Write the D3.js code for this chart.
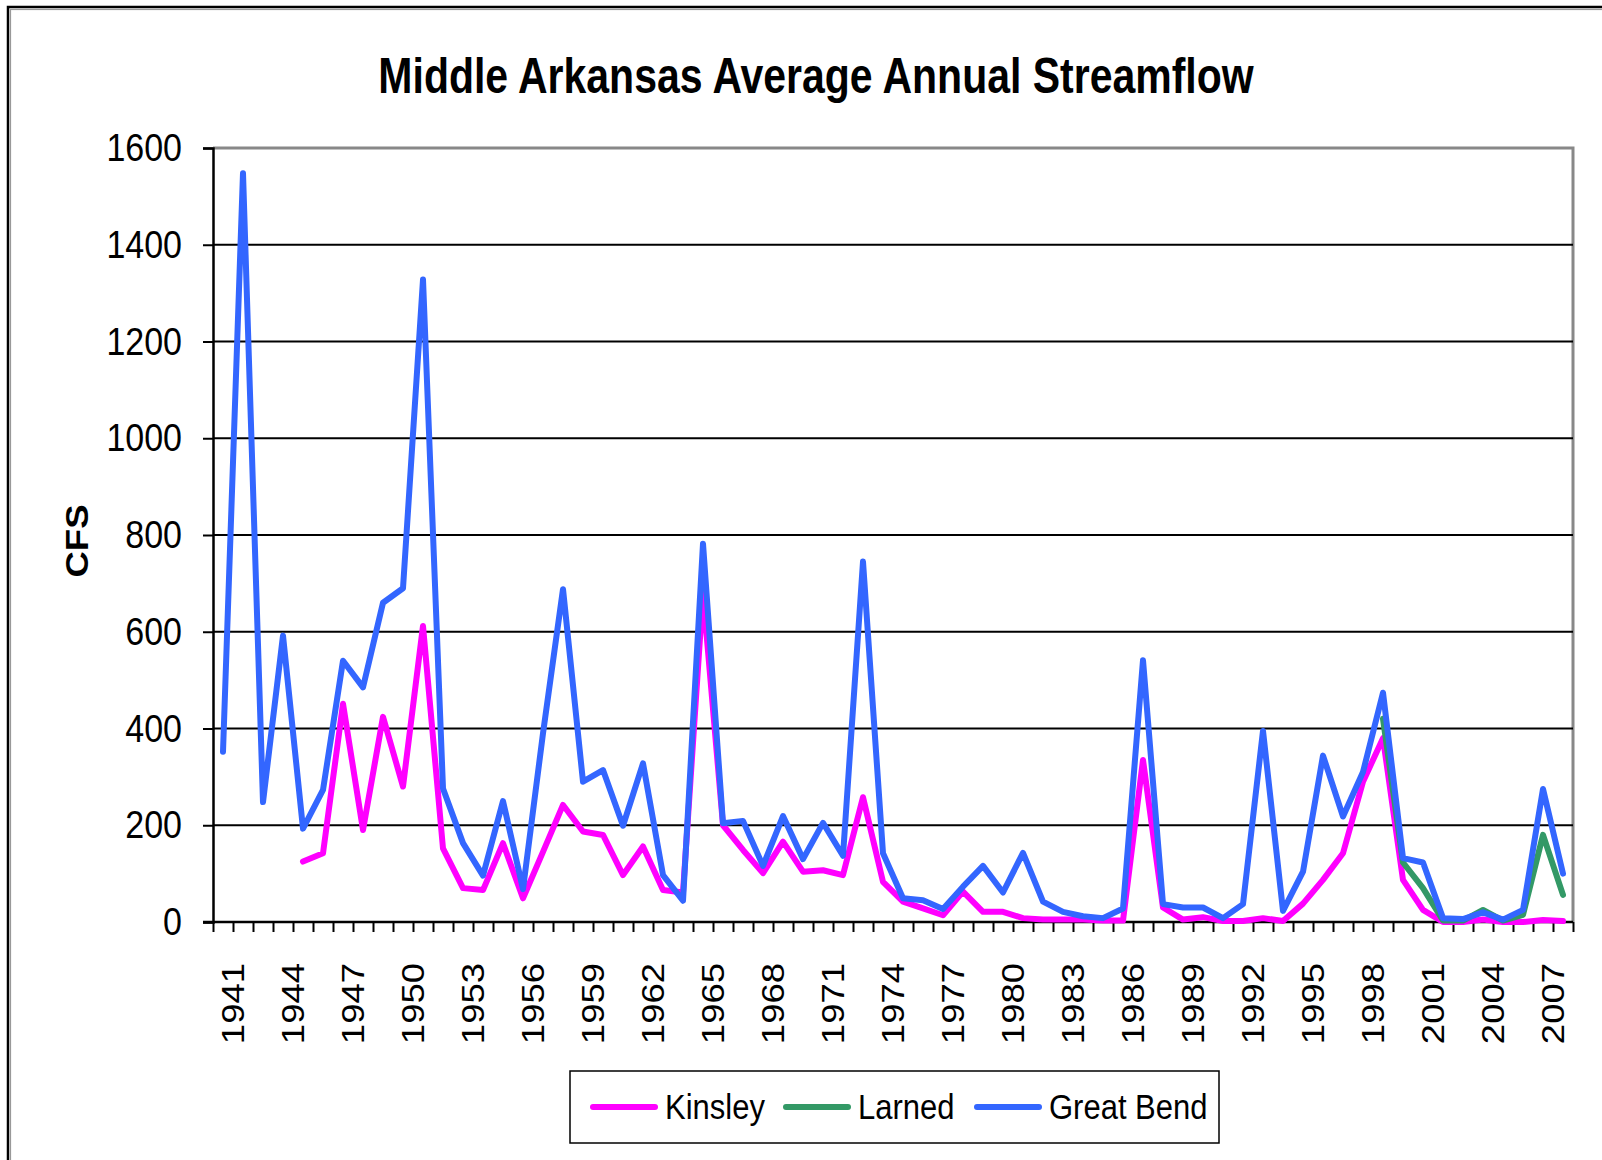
<!DOCTYPE html>
<html>
<head>
<meta charset="utf-8">
<script src="https://cdn.jsdelivr.net/npm/d3@7"></script>
<style>
    body { margin: 0; background: #fff; }
    text { font-family: "Liberation Sans", Arial, sans-serif; }
</style>
</head>
<body>
<div id="chart"></div>
<script>
// chart data
var years = d3.range(1941, 2009);

var kinsley = [null, null, null, null, 125, 142, 451, 190, 424, 280,
    612, 152, 70, 66, 163, 49, 145, 242, 187, 180,
    97, 156, 66, 61, 680, 200, 149, 101, 166, 104,
    107, 97, 258, 83, 42, 28, 14, 63, 21, 21,
    8, 5, 5, 5, 3, 3, 335, 30, 5, 10,
    2, 2, 8, 2, 38, 87, 142, 290, 380, 87,
    25, 0, 0, 5, 0, 0, 4, 2];

var larned = [null, null, null, null, null, null, null, null, null, null,
    null, null, null, null, null, null, null, null, null, null,
    null, null, null, null, null, null, null, null, null, null,
    null, null, null, null, null, null, null, null, null, null,
    null, null, null, null, null, null, null, null, null, null,
    null, null, null, null, null, null, null, null, 420, 123,
    70, 3, 3, 25, 3, 15, 180, 56];

var greatBend = [352, 1548, 248, 592, 193, 273, 540, 485, 660, 690,
    1328, 276, 163, 96, 250, 68, 390, 688, 290, 314,
    199, 328, 97, 44, 782, 204, 209, 116, 219, 130,
    205, 137, 745, 142, 49, 45, 27, 73, 116, 61,
    143, 42, 21, 12, 8, 28, 541, 37, 30, 30,
    8, 37, 395, 23, 104, 344, 218, 310, 474, 132,
    123, 8, 6, 20, 5, 25, 275, 100];

var yTicks = [0, 200, 400, 600, 800, 1000, 1200, 1400, 1600];
var xLabelYears = years.filter((d, i) => i % 3 === 0);

var seriesNames = ["Kinsley", "Larned", "Great Bend"];
var seriesColors = ["#FF00FF", "#339966", "#3366FF"];

// sizes
var svgWidth = 1602;
var svgHeight = 1160;
var plot = { left: 213, top: 148, right: 1573, bottom: 922 };

var svg = d3.select("#chart")
    .append("svg")
    .attr("width", svgWidth)
    .attr("height", svgHeight);

// outer frame (only top/left visible, rest cropped)
svg.append("rect")
    .attr("x", 8).attr("y", 7)
    .attr("width", svgWidth + 20).attr("height", svgHeight + 20)
    .attr("fill", "none")
    .attr("stroke", "#000")
    .attr("stroke-width", 2.5);
svg.append("rect")
    .attr("x", 10.5).attr("y", 9.5)
    .attr("width", svgWidth + 20).attr("height", svgHeight + 20)
    .attr("fill", "none")
    .attr("stroke", "#999")
    .attr("stroke-width", 1.2);

// scales
var x = d3.scaleBand()
    .domain(years)
    .range([plot.left, plot.right]);

var xEdge = d3.scaleLinear()
    .domain([0, years.length])
    .range([plot.left, plot.right]);

var y = d3.scaleLinear()
    .domain([0, 1600])
    .range([plot.bottom, plot.top]);

// plot border (grey top & right)
svg.append("path")
    .attr("d", `M${plot.left},${plot.top}H${plot.right}V${plot.bottom}`)
    .attr("fill", "none")
    .attr("stroke", "#888")
    .attr("stroke-width", 3);

// gridlines
svg.append("g")
    .selectAll("line")
    .data(yTicks.filter(d => d > 0 && d < 1600))
    .enter()
    .append("line")
    .attr("x1", plot.left)
    .attr("x2", plot.right)
    .attr("y1", d => y(d))
    .attr("y2", d => y(d))
    .attr("stroke", "#000")
    .attr("stroke-width", 2);

// y axis
var yAxis = svg.append("g")
    .attr("transform", `translate(${plot.left},0)`)
    .call(d3.axisLeft(y).tickValues(yTicks).tickFormat(d3.format("d")).tickSize(10).tickPadding(21));
yAxis.select(".domain").attr("stroke-width", 2.5);
yAxis.selectAll(".tick line").attr("stroke-width", 2);
yAxis.selectAll("text")
    .attr("font-size", 34)
    .attr("fill", "#000")
    .attr("transform", "scale(1,1.16)");

// x axis: ticks on category edges
var xTickAxis = svg.append("g")
    .attr("transform", `translate(0,${plot.bottom})`)
    .call(d3.axisBottom(xEdge).ticks(years.length).tickSize(10).tickFormat(""));
xTickAxis.select(".domain").attr("stroke-width", 2.5).attr("d", `M${plot.left - 10},0H${plot.right}`);
xTickAxis.selectAll(".tick line").attr("stroke-width", 2);

// x axis labels on category centres
var xLabelAxis = svg.append("g")
    .attr("transform", `translate(${x.bandwidth() / 2},${plot.bottom})`)
    .call(d3.axisBottom(x).tickValues(xLabelYears).tickSize(0));
xLabelAxis.select(".domain").remove();
xLabelAxis.selectAll("text")
    .attr("font-size", 32)
    .attr("fill", "#000")
    .attr("y", 0)
    .attr("x", 0)
    .attr("dy", "0.35em")
    .attr("text-anchor", "end")
    .attr("transform", "translate(0,41) rotate(-90) scale(1.14,1)");

// lines
var line = d3.line()
    .defined(d => d.v !== null)
    .x(d => x(d.year) + x.bandwidth() / 2)
    .y(d => y(d.v));

[kinsley, larned, greatBend].forEach(function(vals, i) {
    svg.append("path")
        .datum(years.map((yr, j) => ({ year: yr, v: vals[j] })))
        .attr("d", line)
        .attr("fill", "none")
        .attr("stroke", seriesColors[i])
        .attr("stroke-width", 6)
        .attr("stroke-linejoin", "round")
        .attr("stroke-linecap", "round");
});

// title
svg.append("text")
    .attr("transform", "translate(816,93) scale(1,1.2)")
    .attr("text-anchor", "middle")
    .attr("font-size", 41)
    .attr("font-weight", "bold")
    .text("Middle Arkansas Average Annual Streamflow");

// y axis title
svg.append("text")
    .attr("transform", "translate(88,541) rotate(-90) scale(1.14,1)")
    .attr("text-anchor", "middle")
    .attr("font-size", 32)
    .attr("font-weight", "bold")
    .text("CFS");

// legend
var legend = svg.append("g");
legend.append("rect")
    .attr("x", 570).attr("y", 1071)
    .attr("width", 649).attr("height", 72)
    .attr("fill", "#fff")
    .attr("stroke", "#000")
    .attr("stroke-width", 1.5);

var legendX = [590, 783, 974];
seriesNames.forEach(function(name, i) {
    legend.append("line")
        .attr("x1", legendX[i] + 3).attr("x2", legendX[i] + 65)
        .attr("y1", 1107).attr("y2", 1107)
        .attr("stroke", seriesColors[i])
        .attr("stroke-width", 6)
        .attr("stroke-linecap", "round");
    legend.append("text")
        .attr("transform", `translate(${legendX[i] + 75},1119) scale(1,1.15)`)
        .attr("font-size", 31)
        .text(name);
});
</script>
</body>
</html>
